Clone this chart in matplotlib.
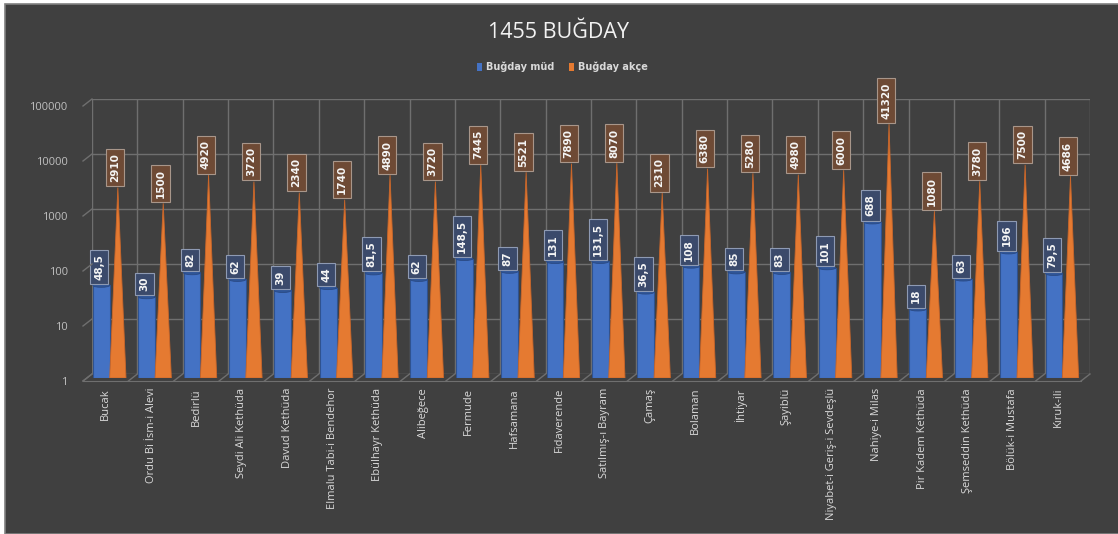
import matplotlib
matplotlib.use("Agg")
import matplotlib.pyplot as plt
import numpy as np
from matplotlib.patches import Rectangle, Ellipse, Patch
from matplotlib.lines import Line2D
from matplotlib.transforms import IdentityTransform

plt.rcParams['font.family'] = ['Open Sans', 'DejaVu Sans']

categories = ["Bucak", "Ordu Bi İsm-i Alevi", "Bedirlü", "Seydi Ali Kethüda", "Davud Kethüda",
              "Elmalu Tabi-i Bendehor", "Ebülhayr Kethüda", "Alibeğece", "Fermude", "Hafsamana",
              "Fidaverende", "Satılmış-ı Bayram", "Çamaş", "Bolaman", "İhtiyar", "Şayiblü",
              "Niyabet-i Geriş-i Sevdeşlü", "Nahiye-i Milas", "Pir Kadem Kethüda",
              "Şemseddin Kethüda", "Bölük-i Mustafa", "Kıruk-ili"]
mud = [48.5, 30, 82, 62, 39, 44, 81.5, 62, 148.5, 87, 131, 131.5, 36.5, 108, 85, 83, 101,
       688, 18, 63, 196, 79.5]
akce = [2910, 1500, 4920, 3720, 2340, 1740, 4890, 3720, 7445, 5521, 7890, 8070, 2310, 6380,
        5280, 4980, 6000, 41320, 1080, 3780, 7500, 4686]
decades = [1, 10, 100, 1000, 10000, 100000]

BG = '#404040'
GRID = '#6f6f6f'
BLUE = '#4472c4'
ORANGE = '#e57a31'
W, H = 1118, 534


def px_rect(x0, y0, x1, y1):
    return [x0 / W, 1 - y1 / H, (x1 - x0) / W, (y1 - y0) / H]


def fmt(v):
    return ('%g' % v).replace('.', ',')


fig = plt.figure(figsize=(W / 100, H / 100), dpi=100, facecolor='white')
fig.patches.append(Rectangle((5 / W, 0), 1.0, 1 - 4 / H, transform=fig.transFigure,
                             facecolor=BG, edgecolor='#808080', linewidth=1.2, zorder=-10))

n = len(categories)
x = np.arange(n)

# back wall with grid
wall = fig.add_axes(px_rect(92, 99, 1090, 374))
wall.set_facecolor('none')
wall.set_yscale('log')
wall.set_xlim(0, n)
wall.set_ylim(1, 100000)
for d in decades:
    wall.axhline(d, color=GRID, lw=1)
for k in range(n + 1):
    wall.axvline(k, color=GRID, lw=1)
for s in wall.spines.values():
    s.set_visible(False)
wall.set_xticks([])
wall.set_yticks([])
wall.minorticks_off()

# bars at mid depth
ax = fig.add_axes(px_rect(87, 103, 1085, 378))
ax.set_facecolor('none')
ax.set_yscale('log')
ax.set_xlim(0, n)
ax.set_ylim(1, 100000)
ax.axis('off')

label_font = dict(fontsize=7.5, color='#f5f5f5', fontweight='bold', family='DejaVu Sans')
bw = 0.37
for i in range(n):
    left = x[i] + 0.13
    ax.add_patch(Rectangle((left, 1), bw, mud[i] - 1, facecolor=BLUE, edgecolor='#2f528f',
                           linewidth=0.8, zorder=3))
    # cylinder top
    cx, cy = ax.transData.transform((left + bw / 2, mud[i]))
    ax.add_patch(Ellipse((cx, cy), 17, 4, transform=IdentityTransform(), facecolor='#2f5597',
                         edgecolor='#2a4a85', linewidth=0.6, zorder=4))
    # cone
    c0 = x[i] + 0.5
    c1 = x[i] + 0.86
    cm = (c0 + c1) / 2
    ax.fill([c0, cm, c1], [1, akce[i], 1], color=ORANGE, lw=0.6, ec='#c9662a', zorder=3)
    ax.annotate(fmt(mud[i]), (left + bw / 2, mud[i]), xytext=(-1.5, 4),
                textcoords='offset points', rotation=90, ha='center', va='bottom', zorder=6,
                bbox=dict(boxstyle='square,pad=0.4', fc='#3b4a6b', ec='#8e9ab3', lw=0.8),
                **label_font)
    ax.annotate(fmt(akce[i]), (cm, akce[i]), xytext=(-2, 4),
                textcoords='offset points', rotation=90, ha='center', va='bottom', zorder=6,
                bbox=dict(boxstyle='square,pad=0.4', fc='#6e4a35', ec='#a8968a', lw=0.8),
                **label_font)

# front edge: tick labels
front = fig.add_axes(px_rect(83, 106, 1081, 381))
front.set_facecolor('none')
front.set_yscale('log')
front.set_xlim(0, n)
front.set_ylim(1, 100000)
front.set_yticks(decades)
front.set_yticklabels([str(d) for d in decades])
front.minorticks_off()
front.set_xticks(x + 0.5)
front.set_xticklabels(categories, rotation=90, va='top', ha='center')
front.tick_params(axis='y', length=0, pad=11, labelsize=8, labelcolor='#bfbfbf')
front.tick_params(axis='x', length=0, pad=5, labelsize=8, labelcolor='#d9d9d9')
for name, s in front.spines.items():
    if name == 'bottom':
        s.set_color(GRID)
    else:
        s.set_visible(False)

# slanted depth ticks
for d in decades:
    bx, by = wall.transData.transform((0, d))
    fx, fy = front.transData.transform((0, d))
    fig.add_artist(Line2D([fx, bx], [fy, by], transform=IdentityTransform(), color=GRID, lw=1))
for k in range(n + 1):
    bx, by = wall.transData.transform((k, 1))
    fx, fy = front.transData.transform((k, 1))
    fig.add_artist(Line2D([fx, bx], [fy, by], transform=IdentityTransform(), color=GRID, lw=1))

fig.text(0.5, 1 - 32 / H, '1455 BUĞDAY', ha='center', va='center', fontsize=15.5,
         color='#f2f2f2')

handles = [Patch(facecolor=BLUE), Patch(facecolor=ORANGE)]
leg = fig.legend(handles, ['Buğday müd', 'Buğday akçe'], loc='center',
                 bbox_to_anchor=(0.503, 1 - 67 / H), ncol=2, frameon=False,
                 prop=dict(size=7, weight='bold', family='DejaVu Sans'),
                 handlelength=0.5, handleheight=1.0, handletextpad=0.4, columnspacing=1.5)
for t in leg.get_texts():
    t.set_color('#d9d9d9')

fig.savefig('out.png', dpi=100, facecolor=fig.get_facecolor())
